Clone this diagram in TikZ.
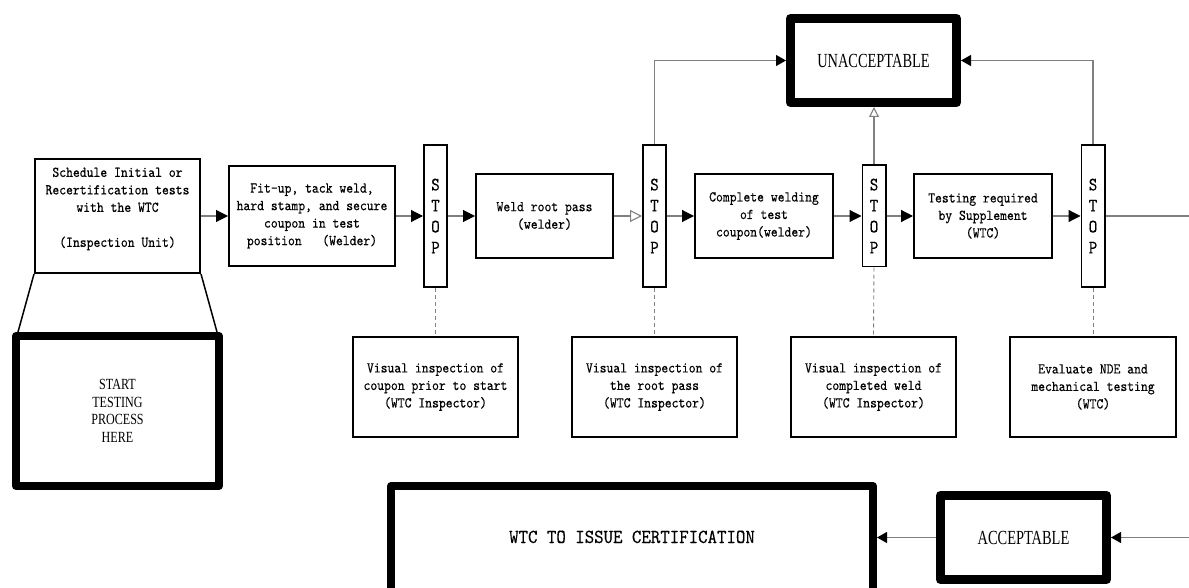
\documentclass[tikz,border=0pt]{standalone}
\usepackage{fontspec}
\usetikzlibrary{arrows.meta,calc}
\newfontfamily\monof[Extension=.otf, FakeStretch=0.87, FakeBold=0.25]{lmmono10-regular}
\newfontfamily\monow[Extension=.otf, FakeStretch=0.9, FakeBold=0.25]{lmmono10-regular}
\newfontfamily\capf[FakeStretch=0.72]{Liberation Serif}
\newfontfamily\capb[FakeStretch=0.78]{Liberation Serif}
\newfontfamily\stopf[Extension=.otf, FakeStretch=0.85, FakeBold=0.25]{lmmono10-regular}
\definecolor{connc}{gray}{0.5}
\begin{document}
\begin{tikzpicture}[x=1pt,y=-1pt,
  box/.style={draw=black, line width=1.6pt, inner sep=0pt, align=center,
    font=\monof\fontsize{15}{17.5}\selectfont},
  stopbox/.style={draw=black, line width=1.6pt, inner sep=0pt, align=center,
    minimum width=23.4pt, font=\stopf\fontsize{19}{21}\selectfont},
  heavybox/.style={draw=black, line width=9pt, line join=round, inner sep=0pt, align=center},
  conn/.style={draw=connc, line width=1.1pt},
  fa/.style={conn, -{Triangle[length=12pt,width=12pt,color=black,fill=black]}},
  fb/.style={conn, -{Triangle[length=10pt,width=11pt,color=black,fill=black]}},
  oa/.style={conn, -{Triangle[length=12pt,width=12pt,color=connc,fill=white]}},
  ob/.style={conn, -{Triangle[length=10pt,width=10pt,color=connc,fill=white]}},
  dconn/.style={conn, line width=0.9pt, dash pattern=on 4pt off 3pt},
  trap/.style={draw=black, line width=1.5pt}
]
\useasboundingbox (0,0) rectangle (1189,588);
\clip (0,0) rectangle (1189,588);
\fill[white] (0,0) rectangle (1189,588);

% top row
\node[box, minimum width=165.4pt, minimum height=114.4pt] (sched) at (117.5,216)
  {Schedule Initial or\\Recertification tests\\with the WTC\\\mbox{}\\(Inspection Unit)\\\mbox{}};
\node[box, minimum width=166.4pt, minimum height=100.4pt] (fit) at (312,216)
  {Fit-up, tack weld,\\hard stamp, and secure\\coupon in test\\position\ \ \ (Welder)};
\node[stopbox, minimum height=142.4pt] (stop1) at (435.5,216) {S\\T\\O\\P};
\node[box, minimum width=137.4pt, minimum height=84.4pt] (root) at (544.5,216)
  {Weld root pass\\(welder)};
\node[stopbox, minimum height=142.4pt] (stop2) at (654.5,216) {S\\T\\O\\P};
\node[box, minimum width=138.4pt, minimum height=84.4pt] (comp) at (764,216)
  {Complete welding\\of test\\coupon(welder)};
\node[stopbox, minimum height=101.4pt] (stop3) at (874,216) {S\\T\\O\\P};
\node[box, minimum width=138.4pt, minimum height=84.4pt] (test) at (983,216)
  {Testing required\\by Supplement\\(WTC)};
\node[stopbox, minimum height=142.4pt] (stop4) at (1093,216) {S\\T\\O\\P};

% unacceptable
\node[heavybox, minimum width=166pt, minimum height=84pt,
  font=\capf\fontsize{20}{24}\selectfont] (unacc) at (873.5,60.5) {UNACCEPTABLE};

% inspection row
\node[box, minimum width=165.4pt, minimum height=100.4pt] (v1) at (435.5,387)
  {Visual inspection of\\coupon prior to start\\(WTC Inspector)};
\node[box, minimum width=165.4pt, minimum height=100.4pt] (v2) at (654.5,387)
  {Visual inspection of\\the root pass\\(WTC Inspector)};
\node[box, minimum width=165.4pt, minimum height=100.4pt] (v3) at (873.5,387)
  {Visual inspection of\\completed weld\\(WTC Inspector)};
\node[box, minimum width=166.4pt, minimum height=100.4pt] (v4) at (1093,387)
  {Evaluate NDE and\\mechanical testing\\(WTC)};

% start box
\node[heavybox, line width=8pt, minimum width=203pt, minimum height=150pt,
  font=\capb\fontsize{15.5}{17.6}\selectfont] (start) at (117.5,411)
  {START\\TESTING\\PROCESS\\HERE};

% bottom row
\node[heavybox, minimum width=166pt, minimum height=84pt,
  font=\capf\fontsize{20}{24}\selectfont] (acc) at (1023.5,537.5) {ACCEPTABLE};
\node[heavybox, line width=8pt, minimum width=482pt, minimum height=112pt,
  font=\monow\fontsize{20}{24}\selectfont] (wtc) at (632,542)
  {\raisebox{-1pt}[0pt][0pt]{WTC TO ISSUE CERTIFICATION}};

\coordinate (r1) at (1189,216);
\coordinate (r2) at (1189,537.5);

% flow connectors
\draw[fa] (sched.east) -- (fit.west);
\draw[fa] (fit.east) -- (stop1.west);
\draw[fa] (stop1.east) -- (root.west);
\draw[oa] (root.east) -- (stop2.west);
\draw[fa] (stop2.east) -- (comp.west);
\draw[fa] (comp.east) -- (stop3.west);
\draw[fa] (stop3.east) -- (test.west);
\draw[fa] (test.east) -- (stop4.west);
\draw[conn] (stop4.east) -- (r1);

% to unacceptable
\draw[fb] (stop2.north) |- (unacc.west);
\draw[fb] (stop4.north) |- (unacc.east);
\draw[ob] (stop3.north) -- (stop3.north |- unacc.south);

% dashed links
\draw[dconn] (stop1.south) -- (v1.north);
\draw[dconn] (stop2.south) -- (v2.north);
\draw[dconn] (stop3.south) -- (v3.north);
\draw[dconn] (stop4.south) -- (v4.north);

% bottom flow
\draw[fb] (r2) -- (acc.east);
\draw[fb] (acc.west) -- (wtc.east |- acc.west);

% trapezoid
\draw[trap] (sched.south west) -- ($(start.north west)+(6,0)$);
\draw[trap] (sched.south east) -- ($(start.north east)+(-6,0)$);
\end{tikzpicture}
\end{document}
